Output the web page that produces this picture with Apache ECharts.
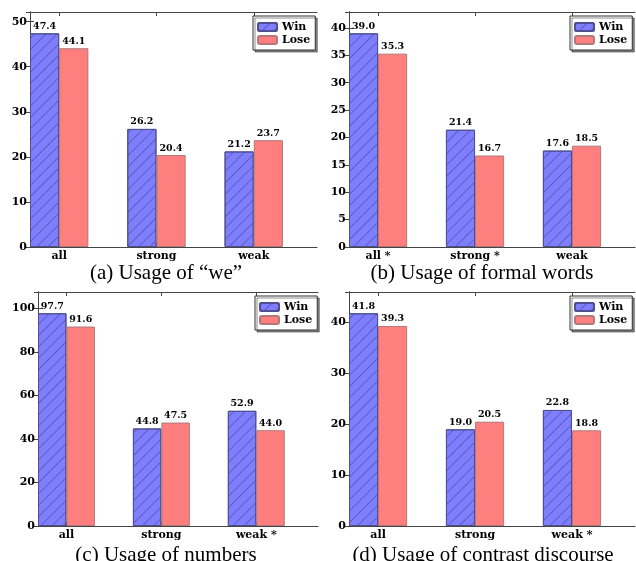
<!DOCTYPE html>
<html>
<head>
<meta charset="utf-8">
<script src="https://cdn.jsdelivr.net/npm/echarts@6/dist/echarts.min.js"></script>
<style>html,body{margin:0;padding:0;background:#fff;}#c{width:636px;height:561px;}</style>
</head>
<body>
<div id="c"></div>
<script>
// ---- data ----
const seriesNames = ['Win', 'Lose'];
const catsA = ['all', 'strong', 'weak'];
const catsB = ['all *', 'strong *', 'weak'];
const catsC = ['all', 'strong', 'weak *'];
const catsD = ['all', 'strong', 'weak *'];
const winA = [47.4, 26.2, 21.2];
const loseA = [44.1, 20.4, 23.7];
const winB = [39.0, 21.4, 17.6];
const loseB = [35.3, 16.7, 18.5];
const winC = [97.7, 44.8, 52.9];
const loseC = [91.6, 47.5, 44.0];
const winD = [41.8, 19.0, 22.8];
const loseD = [39.3, 20.5, 18.8];
const yMaxes = [52.14, 42.9, 107.47, 45.98];
const yIntervals = [10, 5, 20, 10];
const captions = ['(a) Usage of \u201cwe\u201d', '(b) Usage of formal words', '(c) Usage of numbers', '(d) Usage of contrast discourse'];

// ---- layout / style ----
const XMAX = 2.95, BARW = 0.3;
const grids = [
  {left: 30, top: 12, width: 287, height: 235},
  {left: 349, top: 12, width: 286, height: 235},
  {left: 38, top: 292, width: 280, height: 234},
  {left: 349, top: 292, width: 286, height: 234}
];
const legendPos = [[253, 16], [570, 16], [255, 296], [570, 296]];
const capPos = [[166, 273], [482, 273], [166, 555], [483, 555]];
const SERIF = 'DejaVu Serif';
const lineCol = '#444';
const panels = [
  [catsA, winA, loseA], [catsB, winB, loseB], [catsC, winC, loseC], [catsD, winD, loseD]
];

const option = {
  animation: false,
  backgroundColor: '#fff',
  grid: grids.map(g => Object.assign({containLabel: false}, g)),
  xAxis: [], yAxis: [], series: [], legend: [], graphic: []
};

panels.forEach(([cats, win, lose], k) => {
  const ticksX = cats.map((c, i) => i + BARW);
  const axisBase = {
    type: 'value', gridIndex: k, min: 0, max: XMAX,
    axisLine: {show: true, onZero: false, lineStyle: {color: lineCol, width: 1}},
    axisTick: {show: true, inside: true, length: 4, customValues: ticksX, lineStyle: {color: lineCol}},
    splitLine: {show: false}
  };
  option.xAxis.push(Object.assign({}, axisBase, {
    position: 'bottom',
    axisLabel: {show: true, customValues: ticksX, margin: 4,
      formatter: v => cats[Math.round(v - BARW)],
      fontFamily: SERIF, fontWeight: 'bold', fontSize: 11, color: '#000'}
  }));
  option.xAxis.push(Object.assign({}, axisBase, {position: 'top', axisLabel: {show: false}}));
  const yBase = {
    type: 'value', gridIndex: k, min: 0, max: yMaxes[k], interval: yIntervals[k],
    axisLine: {show: true, lineStyle: {color: lineCol, width: 1}},
    axisTick: {show: true, inside: true, length: 4, lineStyle: {color: lineCol}},
    splitLine: {show: false}
  };
  option.yAxis.push(Object.assign({}, yBase, {
    position: 'left',
    axisLabel: {show: true, margin: 3, showMaxLabel: false,
      formatter: v => (Math.abs(v / yIntervals[k] - Math.round(v / yIntervals[k])) < 1e-6 ? String(v) : ''),
      fontFamily: SERIF, fontWeight: 'bold', fontSize: 11, color: '#000'}
  }));
  option.yAxis.push(Object.assign({}, yBase, {position: 'right', axisLabel: {show: false}}));

  const pxW = BARW * grids[k].width / XMAX;
  const label = {show: true, position: 'top', distance: 2,
    formatter: p => p.value[1].toFixed(1),
    fontFamily: SERIF, fontWeight: 'bold', fontSize: 9.5, color: '#000'};
  option.series.push({
    type: 'bar', name: seriesNames[0], xAxisIndex: 2 * k, yAxisIndex: 2 * k,
    barWidth: pxW, barGap: '-100%',
    data: win.map((v, i) => [i + BARW / 2, v]),
    itemStyle: {color: '#7f7ffd', borderColor: '#4f4f92', borderWidth: 1,
      decal: {symbol: 'rect', symbolSize: 1, dashArrayX: [1, 0], dashArrayY: [1, 7],
        rotation: -Math.PI / 4, color: 'rgba(40,40,120,0.4)'}},
    label: label
  });
  option.series.push({
    type: 'bar', name: seriesNames[1], xAxisIndex: 2 * k, yAxisIndex: 2 * k,
    barWidth: pxW, barGap: '-100%',
    data: lose.map((v, i) => [i + BARW * 1.5, v]),
    itemStyle: {color: '#ff7f7f', borderColor: '#b07878', borderWidth: 1},
    label: label
  });
  option.legend.push({
    data: seriesNames, orient: 'vertical', left: legendPos[k][0], top: legendPos[k][1],
    padding: [5, 5, 4, 4], itemGap: 1, itemWidth: 19, itemHeight: 8,
    backgroundColor: '#fff', borderColor: '#333', borderWidth: 1, borderRadius: 0,
    shadowColor: 'rgba(0,0,0,0.45)', shadowBlur: 0, shadowOffsetX: 2, shadowOffsetY: 2,
    selectedMode: false,
    textStyle: {fontFamily: SERIF, fontWeight: 'bold', fontSize: 11, color: '#000', lineHeight: 12}
  });
  option.graphic.push({
    type: 'text', x: capPos[k][0], y: capPos[k][1],
    style: {text: captions[k], fontFamily: 'Liberation Serif', fontSize: 21, fill: '#000',
      textAlign: 'center', textVerticalAlign: 'middle'}
  });
});

const chart = echarts.init(document.getElementById('c'), null, {renderer: 'canvas'});
chart.setOption(option);
</script>
</body>
</html>
